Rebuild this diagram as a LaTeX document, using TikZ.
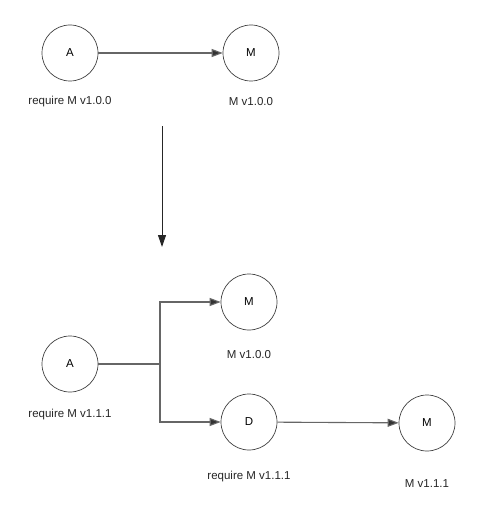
\documentclass[tikz,border=0pt]{standalone}
\usepackage{fontspec}
\setmainfont{Liberation Sans}
\usetikzlibrary{arrows.meta}
\begin{document}
\begin{tikzpicture}[x=1pt,y=-1pt,
  circ/.style={draw=black!75,line width=0.7pt,circle,minimum size=56pt,inner sep=0pt,font=\fontsize{11.5}{13}\selectfont},
  lbl/.style={font=\fontsize{11.5}{13}\selectfont,text=black!85},
  conn/.style={draw=black!60,line width=1.1pt,-{Triangle[length=11pt,width=8pt,fill=black!80]}},
  plain/.style={draw=black!60,line width=1.1pt}]
\useasboundingbox (0,0) rectangle (480,519);
% top
\node[circ] (a1) at (70,53) {A};
\node[circ] (m1) at (251,53) {M};
\node[lbl] (la1) at (70,102) {require M v1.0.0};
\node[lbl] (lm1) at (251,102) {M v1.0.0};
\draw[conn] (a1) -- (m1);
% big arrow
\coordinate (v1) at (162,126);
\coordinate (v2) at (162,247);
\draw[draw=black!85,line width=1pt,-{Triangle[length=12pt,width=8pt]}] (v1) -- (v2);
% bottom
\node[circ] (a2) at (70,364) {A};
\node[circ] (m2) at (249,302) {M};
\node[circ] (d) at (249,422) {D};
\node[circ] (m3) at (427,423) {M};
\node[lbl] (la2) at (70,415) {require M v1.1.1};
\node[lbl] (lm2) at (249,355) {M v1.0.0};
\node[lbl] (ld) at (249,477) {require M v1.1.1};
\node[lbl] (lm3) at (427,484) {M v1.1.1};
\coordinate (br) at (160,364);
\draw[plain] (a2.east) -- (br);
\draw[conn] (br) |- (m2.west);
\draw[conn] (br) |- (d.west);
\draw[conn] (d) -- (m3);
\end{tikzpicture}
\end{document}
